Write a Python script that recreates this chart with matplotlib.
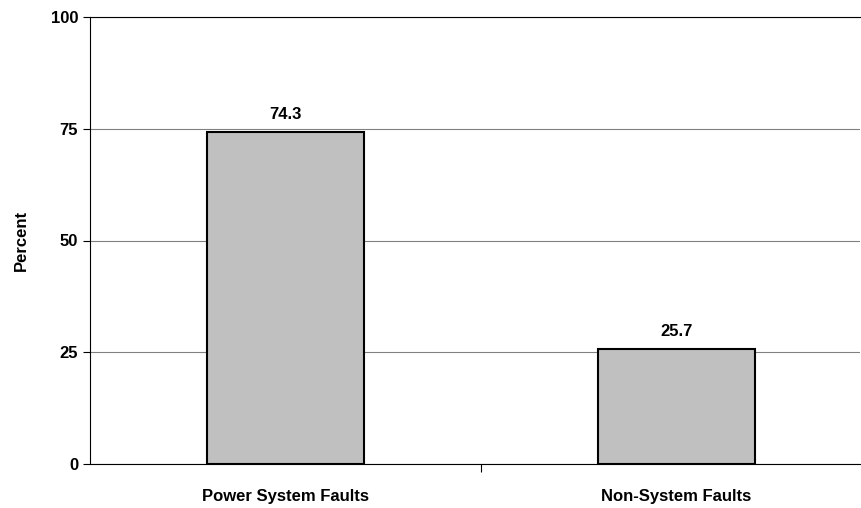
import matplotlib
matplotlib.use("Agg")
import matplotlib.pyplot as plt

categories = ["Power System Faults", "Non-System Faults"]
values = [74.3, 25.7]
yticks = [0, 25, 50, 75, 100]

plt.rcParams['font.family'] = ['Liberation Sans', 'DejaVu Sans']
fig = plt.figure(figsize=(8.62, 5.08), dpi=100)
ax = fig.add_axes([90/862, 44/508, 770/862, 447/508])
x = [0, 1]
ax.bar(x, values, width=0.40, color="#c0c0c0", edgecolor="black", linewidth=1.5, zorder=3)
for xi, v in zip(x, values):
    ax.text(xi, v + 2.2, f"{v}", ha="center", va="bottom", fontsize=12, fontweight="bold")
ax.set_xlim(-0.5, 1.469)
ax.set_ylim(0, 100)
ax.set_yticks(yticks)
ax.set_yticklabels([str(t) for t in yticks], fontsize=12, fontweight="bold")
ax.set_xticks([0.5])
ax.set_xticklabels([""])
ax.tick_params(axis='x', length=6, direction='out')
ax.tick_params(axis='y', length=5, direction='out')
for xi, c in zip(x, categories):
    ax.text(xi, -0.055, c, transform=ax.get_xaxis_transform(), ha="center", va="top",
            fontsize=12, fontweight="bold")
ax.yaxis.grid(True, color="#808080", linewidth=0.8, zorder=0)
ax.spines['right'].set_visible(False)
ax.set_ylabel("Percent", fontsize=12, fontweight="bold", labelpad=16)
fig.savefig("out.png", dpi=100)
